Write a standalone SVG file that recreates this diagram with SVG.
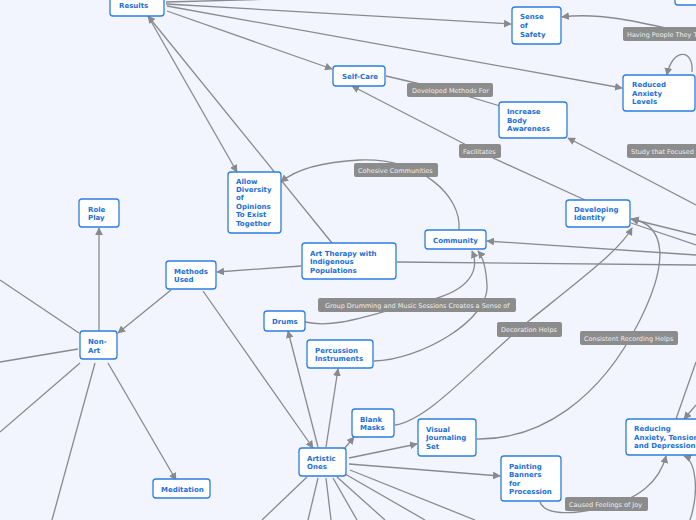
<svg xmlns="http://www.w3.org/2000/svg" width="696" height="520" viewBox="0 0 696 520">
<style>
.n rect{fill:#fff;stroke:#2b7de0;stroke-width:1.3}
.n text{font-family:"DejaVu Sans",sans-serif;font-weight:bold;font-size:7px;fill:#1a6fd8}
.l rect{fill:#8c8c8c}
.l text{font-family:"DejaVu Sans",sans-serif;font-size:6.5px;fill:#eee}
.c path{fill:none;stroke:#8a8a8e;stroke-width:1.3}
</style>
<defs><marker id="a" viewBox="0 0 10 10" refX="9" refY="5" markerWidth="6" markerHeight="6" orient="auto"><path d="M0,0L10,5L0,10z" fill="#8a8a8e"/></marker></defs>
<rect width="696" height="520" fill="#f2f5fe"/>
<g class="c">
<path d="M166,2 L350,-3"/>
<path d="M167,11 L332,69" marker-end="url(#a)"/>
<path d="M166,4 L511,24" marker-end="url(#a)"/>
<path d="M167,6 L622,88" marker-end="url(#a)"/>
<path d="M148,16 L237,172" marker-end="url(#a)"/>
<path d="M332,243 L148,16" marker-end="url(#a)"/>
<path d="M301,266 L217,272" marker-end="url(#a)"/>
<path d="M397,262 L696,265"/>
<path d="M696,255 L487,241" marker-end="url(#a)"/>
<path d="M459,230 C462,195 420,158 360,160 C320,162 295,170 281,182" marker-end="url(#a)"/>
<path d="M585,200 L480,152 L352,86" marker-end="url(#a)"/>
<path d="M386,76 L450,91 L500,106"/>
<path d="M696,205 L568,138" marker-end="url(#a)"/>
<path d="M696,35 C640,22 600,12 562,17" marker-end="url(#a)"/>
<path d="M692,72 C694,48 672,48 667,75" marker-end="url(#a)"/>
<path d="M696,235 L631,219" marker-end="url(#a)"/>
<path d="M696,245 L631,223"/>
<path d="M395,425 C430,420 480,360 530,320 C580,280 620,250 632,228" marker-end="url(#a)"/>
<path d="M477,439 C540,440 600,400 640,320 C670,260 665,225 632,219" marker-end="url(#a)"/>
<path d="M305,322 C340,330 380,310 430,300 C470,290 480,270 472,251" marker-end="url(#a)"/>
<path d="M374,361 C420,360 490,320 487,285 C486,265 482,256 478,251" marker-end="url(#a)"/>
<path d="M171,290 L118,333" marker-end="url(#a)"/>
<path d="M203,291 L313,448" marker-end="url(#a)"/>
<path d="M99,331 L99,228" marker-end="url(#a)"/>
<path d="M108,363 L176,480" marker-end="url(#a)"/>
<path d="M79,333 L0,280"/><path d="M78,349 L0,362"/><path d="M80,363 L0,432"/><path d="M95,363 L52,520"/>
<path d="M318,447 L288,331" marker-end="url(#a)"/>
<path d="M326,447 L338,369" marker-end="url(#a)"/>
<path d="M344,449 L354,437" marker-end="url(#a)"/>
<path d="M349,458 L417,444" marker-end="url(#a)"/>
<path d="M349,464 L500,476" marker-end="url(#a)"/>
<path d="M307,477 L262,520"/><path d="M318,478 L308,520"/><path d="M326,478 L331,520"/><path d="M333,478 L357,520"/><path d="M337,477 L385,520"/><path d="M345,474 L425,520"/><path d="M350,470 L475,520"/>
<path d="M540,502 C545,515 570,515 600,508 C640,500 660,480 666,456" marker-end="url(#a)"/>
<path d="M690,520 C700,490 695,460 684,456" marker-end="url(#a)"/>
<path d="M676,419 L696,362"/>
<path d="M696,405 L684,419" marker-end="url(#a)"/>
</g>
<g class="l"><rect x="623" y="27" width="80" height="14" rx="2"/><text x="627" y="36.5">Having People They T</text></g>
<g class="l"><rect x="407" y="83" width="86" height="14" rx="2"/><text x="412" y="92.5">Developed Methods For</text></g>
<g class="l"><rect x="459" y="144" width="42" height="14" rx="2"/><text x="463" y="153.5">Facilitates</text></g>
<g class="l"><rect x="627" y="144" width="75" height="14" rx="2"/><text x="631" y="153.5">Study that Focused</text></g>
<g class="l"><rect x="354" y="163" width="84" height="14" rx="2"/><text x="358" y="172.5">Cohesive Communities</text></g>
<g class="l"><rect x="318" y="298" width="198" height="14" rx="2"/><text x="325" y="307.5">Group Drumming and Music Sessions Creates a Sense of</text></g>
<g class="l"><rect x="497" y="322" width="65" height="15" rx="2"/><text x="501" y="332">Decoration Helps</text></g>
<g class="l"><rect x="580" y="331" width="98" height="14" rx="2"/><text x="584" y="340.5">Consistent Recording Helps</text></g>
<g class="l"><rect x="565" y="497" width="83" height="14" rx="2"/><text x="569" y="506.5">Caused Feelings of Joy</text></g>
<g class="n" id="results"><rect x="110" y="-10" width="54" height="26" rx="3"/><text x="119" y="8">Results</text></g>
<g class="n" id="topright"><rect x="675" y="-8" width="30" height="13" rx="3"/></g>
<g class="n" id="safety"><rect x="512" y="7" width="49" height="37" rx="3"/><text x="520" y="19">Sense</text><text x="520" y="28">of</text><text x="520" y="37">Safety</text></g>
<g class="n" id="reduced"><rect x="623" y="75" width="72" height="36" rx="3"/><text x="632" y="87">Reduced</text><text x="632" y="96">Anxiety</text><text x="632" y="104">Levels</text></g>
<g class="n" id="selfcare"><rect x="333" y="66" width="52" height="20" rx="3"/><text x="342" y="79">Self-Care</text></g>
<g class="n" id="body"><rect x="499" y="102" width="68" height="36" rx="3"/><text x="507" y="114">Increase</text><text x="507" y="123">Body</text><text x="507" y="131">Awareness</text></g>
<g class="n" id="identity"><rect x="566" y="200" width="64" height="27" rx="3"/><text x="574" y="212">Developing</text><text x="574" y="220">Identity</text></g>
<g class="n" id="diversity"><rect x="228" y="172" width="53" height="61" rx="3"/><text x="236" y="184">Allow</text><text x="236" y="192">Diversity</text><text x="236" y="200">of</text><text x="236" y="209">Opinions</text><text x="236" y="217">To Exist</text><text x="236" y="226">Together</text></g>
<g class="n" id="roleplay"><rect x="79" y="199" width="40" height="28" rx="3"/><text x="88" y="212">Role</text><text x="88" y="220">Play</text></g>
<g class="n" id="community"><rect x="425" y="230" width="61" height="19" rx="3"/><text x="433" y="243">Community</text></g>
<g class="n" id="arttherapy"><rect x="302" y="243" width="94" height="36" rx="3"/><text x="310" y="256">Art Therapy with</text><text x="310" y="264">Indigenous</text><text x="310" y="273">Populations</text></g>
<g class="n" id="methods"><rect x="166" y="261" width="50" height="28" rx="3"/><text x="174" y="274">Methods</text><text x="174" y="282">Used</text></g>
<g class="n" id="nonart"><rect x="80" y="331" width="37" height="28" rx="3"/><text x="88" y="344">Non-</text><text x="88" y="353">Art</text></g>
<g class="n" id="drums"><rect x="264" y="311" width="41" height="20" rx="3"/><text x="272" y="324">Drums</text></g>
<g class="n" id="percussion"><rect x="307" y="340" width="66" height="28" rx="3"/><text x="315" y="353">Percussion</text><text x="315" y="361">Instruments</text></g>
<g class="n" id="masks"><rect x="352" y="409" width="42" height="28" rx="3"/><text x="360" y="422">Blank</text><text x="360" y="430">Masks</text></g>
<g class="n" id="journal"><rect x="418" y="419" width="58" height="37" rx="3"/><text x="426" y="432">Visual</text><text x="426" y="440">Journaling</text><text x="426" y="449">Set</text></g>
<g class="n" id="artistic"><rect x="299" y="448" width="47" height="28" rx="3"/><text x="307" y="461">Artistic</text><text x="307" y="469">Ones</text></g>
<g class="n" id="meditation"><rect x="153" y="479" width="57" height="19" rx="3"/><text x="161" y="492">Meditation</text></g>
<g class="n" id="banners"><rect x="501" y="456" width="60" height="45" rx="3"/><text x="509" y="469">Painting</text><text x="509" y="477">Banners</text><text x="509" y="486">for</text><text x="509" y="494">Procession</text></g>
<g class="n" id="reducing"><rect x="626" y="419" width="78" height="36" rx="3"/><text x="634" y="431">Reducing</text><text x="634" y="440">Anxiety, Tension</text><text x="634" y="448">and Depression</text></g>
</svg>
